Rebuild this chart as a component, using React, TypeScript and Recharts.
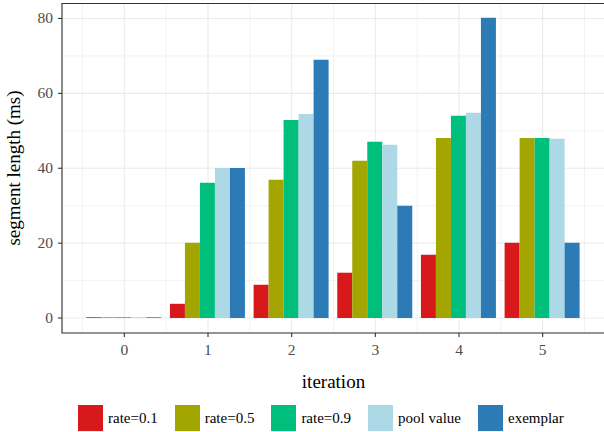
import React from "react";
import {
  BarChart,
  Bar,
  XAxis,
  YAxis,
  CartesianGrid,
  ReferenceArea,
  Legend,
  Label,
} from "recharts";

const iterations = [0, 1, 2, 3, 4, 5];
const rate01 = [0.2, 3.8, 8.9, 12.1, 16.9, 20.1];
const rate05 = [0.2, 20.1, 36.9, 42.0, 48.1, 48.1];
const rate09 = [0.2, 36.1, 52.9, 47.1, 54.0, 48.1];
const poolValue = [0.2, 40.1, 54.5, 46.3, 54.8, 47.9];
const exemplar = [0.2, 40.1, 69.0, 30.0, 80.2, 20.1];

const yTicks = [0, 20, 40, 60, 80];
const yMinor = [10, 30, 50, 70];
const xMinor = [-0.5, 0.5, 1.5, 2.5, 3.5, 4.5, 5.5];

const series = [
  { key: "r01", name: "rate=0.1", color: "#D7191C", values: rate01 },
  { key: "r05", name: "rate=0.5", color: "#A3A500", values: rate05 },
  { key: "r09", name: "rate=0.9", color: "#00BF7D", values: rate09 },
  { key: "pool", name: "pool value", color: "#ADD8E6", values: poolValue },
  { key: "ex", name: "exemplar", color: "#2C7BB6", values: exemplar },
];

const data = iterations.map((it, i) => {
  const row: Record<string, number> = { iteration: it };
  series.forEach((s) => {
    row[s.key] = s.values[i];
  });
  return row;
});

const FONT = "'Liberation Serif', 'Times New Roman', serif";

// tick labels drawn as plain svg text so the serif font sticks
function XTick(props: any) {
  const { x, y, payload } = props;
  return (
    <text x={x} y={y + 11} textAnchor="middle" fontFamily={FONT} fontSize={15.5} fill="#4D4D4D">
      {payload.value}
    </text>
  );
}

function YTick(props: any) {
  const { x, y, payload } = props;
  return (
    <text x={x} y={y + 5} textAnchor="end" fontFamily={FONT} fontSize={15.5} fill="#4D4D4D">
      {payload.value}
    </text>
  );
}

function LegendBox() {
  return (
    <div
      style={{
        display: "flex",
        alignItems: "center",
        paddingLeft: 78,
        fontFamily: FONT,
        fontSize: 15,
        color: "#000",
      }}
    >
      {series.map((s) => (
        <div key={s.key} style={{ display: "flex", alignItems: "center", marginRight: 17 }}>
          <div style={{ width: 25, height: 26, background: s.color, marginRight: 5 }} />
          <span style={{ fontFamily: FONT }}>{s.name}</span>
        </div>
      ))}
    </div>
  );
}

export default function App() {
  return (
    <div
      style={{
        position: "absolute",
        left: 0,
        top: 0,
        width: 604,
        height: 432,
        overflow: "hidden",
        background: "#fff",
        fontFamily: FONT,
      }}
    >
      <BarChart
        width={606}
        height={432}
        data={data}
        margin={{ top: 3.5, right: 1, bottom: 0, left: 0 }}
        barCategoryGap="4.5%"
        barGap={0}
        style={{ fontFamily: FONT }}
      >
        <CartesianGrid stroke="#EBEBEB" strokeWidth={0.6} horizontalValues={yMinor} verticalValues={xMinor} />
        <CartesianGrid stroke="#EBEBEB" strokeWidth={1.1} />
        <XAxis
          dataKey="iteration"
          type="number"
          domain={[-0.745, 5.745]}
          ticks={iterations}
          allowDataOverflow
          height={99}
          axisLine={false}
          tickSize={4}
          tickMargin={7}
          tickLine={{ stroke: "#333333", strokeWidth: 1.1 }}
          tick={<XTick />}
        >
          <Label
            value="iteration"
            position="insideTop"
            offset={42}
            style={{ fontSize: 19, fill: "#000", fontFamily: FONT }}
          />
        </XAxis>
        <YAxis
          type="number"
          domain={[-4, 84]}
          ticks={yTicks}
          allowDataOverflow
          width={62}
          axisLine={false}
          tickSize={4}
          tickMargin={5}
          tickLine={{ stroke: "#333333", strokeWidth: 1.1 }}
          tick={<YTick />}
        >
          <Label
            content={() => (
              <text
                x={0}
                y={0}
                transform="translate(20,168) rotate(-90)"
                textAnchor="middle"
                style={{ fontSize: 19, fill: "#000", fontFamily: FONT }}
              >
                segment length (ms)
              </text>
            )}
          />
        </YAxis>
        {series.map((s) => (
          <Bar
            key={s.key}
            dataKey={s.key}
            name={s.name}
            fill={s.color}
            isAnimationActive={false}
          />
        ))}
        <ReferenceArea
          x1={-0.745}
          x2={5.745}
          y1={-4}
          y2={84}
          fill="none"
          fillOpacity={0}
          stroke="#333333"
          strokeWidth={1.1}
          strokeOpacity={1}
        />
        <Legend
          layout="horizontal"
          verticalAlign="middle"
          align="center"
          wrapperStyle={{ top: 405, left: 0, width: 604, height: 26 }}
          content={() => <LegendBox />}
        />
      </BarChart>
    </div>
  );
}
